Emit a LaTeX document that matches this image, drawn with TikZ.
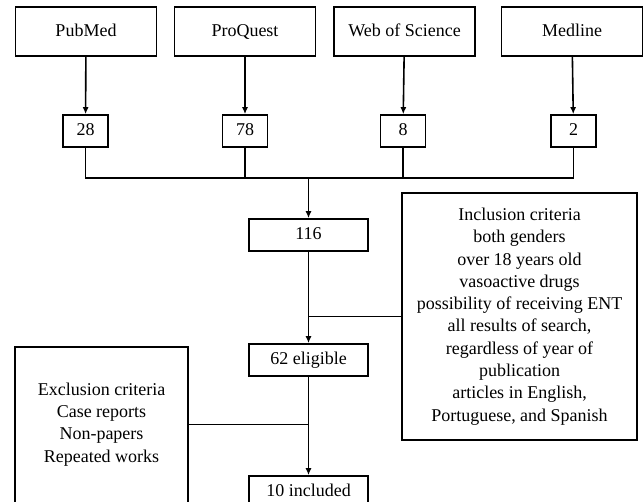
\documentclass[tikz,border=0pt]{standalone}
\usepackage{fontspec}
\setmainfont{Liberation Serif}
\usetikzlibrary{arrows.meta}
\begin{document}
\begin{tikzpicture}[x=1pt,y=-1pt,
    box/.style={draw,line width=1.6pt,inner sep=0pt,align=center,font=\fontsize{18}{22.3}\selectfont},
    oneline/.style={text height=13pt,text depth=3.5pt},
    src/.style={box,oneline,minimum width=141pt,minimum height=49pt},
    num/.style={box,oneline,minimum width=45pt,minimum height=32pt},
    stage/.style={box,oneline,minimum width=119pt,minimum height=32pt},
    link/.style={line width=1.6pt},
    flow/.style={link,-{Latex[length=7pt,width=6pt]}}]
    \clip (0,0) rectangle (643,502);
    \node[src] (pubmed)   at (86,31.5)  {PubMed};
    \node[src] (proquest) at (245,31.5) {ProQuest};
    \node[src] (wos)      at (404.5,31.5) {Web of Science};
    \node[src] (medline)  at (572,31.5) {Medline};
    \node[num] (n28) at (85.5,131) {28};
    \node[num] (n78) at (245,131)  {78};
    \node[num] (n8)  at (403,131)  {8};
    \node[num] (n2)  at (573.5,131) {2};
    \draw[flow] (pubmed) -- (n28);
    \draw[flow] (proquest) -- (n78);
    \draw[flow] (wos) -- (n8);
    \draw[flow] (medline) -- (n2);
    \coordinate (bus) at (308.5,178);
    \draw[link] (n28.south) |- (bus) -| (n2.south);
    \draw[link] (n78.south) -- (n78.south |- bus);
    \draw[link] (n8.south) -- (n8.south |- bus);
    \node[stage] (n116)     at (308.5,235) {116};
    \node[stage] (eligible) at (308.5,360) {62 eligible};
    \node[stage] (included) at (308.5,492) {10 included};
    \draw[flow] (bus) -- (n116.north);
    \node[box,minimum width=235pt,minimum height=247pt] (inclusion) at (519.5,316.5)
      {Inclusion criteria\\both genders\\over 18 years old\\vasoactive drugs\\possibility of receiving ENT\\all results of search,\\regardless of year of\\publication\\articles in English,\\Portuguese, and Spanish};
    \draw[flow] (n116) -- (eligible);
    \draw[link] (inclusion.west) -- (n116.south |- inclusion.west);
    \node[box,draw=none,minimum width=171pt,minimum height=153pt] (exclusion) at (101.5,424.5)
      {Exclusion criteria\\Case reports\\Non-papers\\Repeated works};
    \draw[link] (exclusion.north west) rectangle ([yshift=-20pt]exclusion.south east);
    \draw[flow] (eligible) -- (included);
    \draw[link] (exclusion.east) -- (eligible.south |- exclusion.east);
\end{tikzpicture}
\end{document}
